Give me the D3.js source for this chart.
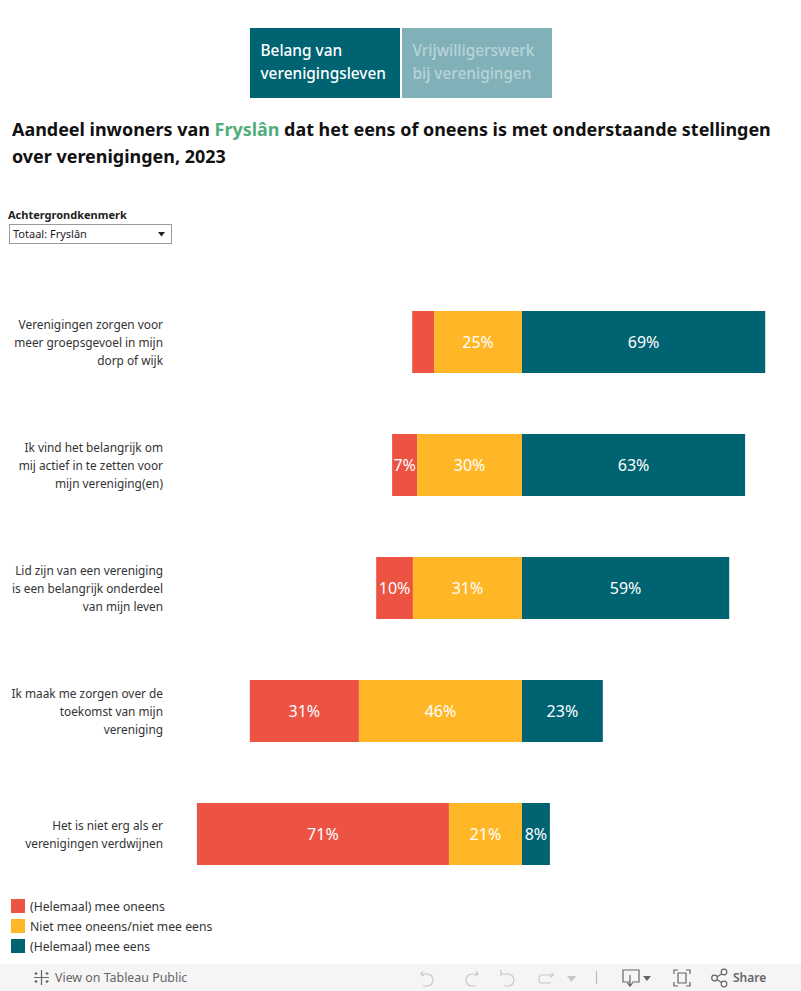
<!DOCTYPE html>
<html><head><meta charset="utf-8">
<script src="https://cdn.jsdelivr.net/npm/d3@7/dist/d3.min.js"></script>
<style>html,body{margin:0;padding:0;background:#fff}svg{display:block}text{font-family:"Noto Sans",sans-serif}</style>
</head><body><div id="chart"></div>
<script>
const statements = [
  ["Verenigingen zorgen voor","meer groepsgevoel in mijn","dorp of wijk"],
  ["Ik vind het belangrijk om","mij actief in te zetten voor","mijn vereniging(en)"],
  ["Lid zijn van een vereniging","is een belangrijk onderdeel","van mijn leven"],
  ["Ik maak me zorgen over de","toekomst van mijn","vereniging"],
  ["Het is niet erg als er","verenigingen verdwijnen"]
];
const oneens  = [6.2, 7.1, 10.4, 30.9, 71.4];
const neutraal = [24.9, 29.7, 30.9, 46.2, 20.7];
const eens    = [68.9, 63.2, 58.7, 22.9, 7.9];
const showOneensLabel = [false, true, true, true, true];
const legendLabels = ["(Helemaal) mee oneens","Niet mee oneens/niet mee eens","(Helemaal) mee eens"];
const colors = ["#ec5343","#ffb727","#006372"];

const W=801,H=991;
const svg=d3.select("#chart").append("svg").attr("width",W).attr("height",H);
const x=d3.scaleLinear().domain([-100,100]).range([522-353,522+353]);
const y=d3.scaleBand().domain(d3.range(statements.length)).range([280.5,895.5]).paddingInner(61/123).paddingOuter(61/246);

// tabs
const tabs=[{x:250,fill:"#006372",c:"#fff",t:["Belang van","verenigingsleven"]},{x:402,fill:"#80b1b8",c:"#b9d4d8",t:["Vrijwilligerswerk","bij verenigingen"]}];
tabs.forEach(t=>{
  svg.append("rect").attr("x",t.x).attr("y",28).attr("width",150).attr("height",70).attr("fill",t.fill);
  t.t.forEach((s,i)=>svg.append("text").attr("x",t.x+10.5).attr("y",55.5+i*23).attr("fill",t.c).attr("font-size",15.4).attr("font-weight",500).text(s));
});
// title
const ttl=svg.append("text").attr("x",12).attr("y",136).attr("font-size",17.95).attr("font-weight",700).attr("fill","#111");
ttl.append("tspan").text("Aandeel inwoners van ");
ttl.append("tspan").attr("fill","#4fae7c").text("Fryslân");
ttl.append("tspan").text(" dat het eens of oneens is met onderstaande stellingen");
svg.append("text").attr("x",12).attr("y",163).attr("font-size",17.95).attr("font-weight",700).attr("fill","#111").text("over verenigingen, 2023");
// filter
svg.append("text").attr("x",8).attr("y",219).attr("font-size",11).attr("font-weight",700).attr("fill","#222").text("Achtergrondkenmerk");
svg.append("rect").attr("x",9.5).attr("y",224.5).attr("width",162).attr("height",19).attr("fill","#fff").attr("stroke","#9a9a9a");
svg.append("text").attr("x",13).attr("y",238).attr("font-size",11).attr("fill","#222").text("Totaal: Fryslân");
svg.append("path").attr("d","M158 232h7l-3.5 4.5z").attr("fill","#222");

// rows
statements.forEach((lines,i)=>{
  const cy=y(i)+y.bandwidth()/2, n=lines.length;
  lines.forEach((s,j)=>svg.append("text").attr("x",163).attr("y",cy+(j-(n-1)/2)*18+5).attr("text-anchor","end").attr("font-size",11.85).attr("fill","#333").text(s));
  const v1=oneens[i],v2=neutraal[i],v3=eens[i];
  const segs=[[-(v1+v2),-v2,colors[0],v1,showOneensLabel[i]],[-v2,0,colors[1],v2,true],[0,v3,colors[2],v3,true]];
  segs.forEach(([a,b,c,v,show])=>{
    svg.append("rect").attr("x",x(a)).attr("y",y(i)).attr("width",x(b)-x(a)).attr("height",y.bandwidth()).attr("fill",c);
    if(show) svg.append("text").attr("x",(x(a)+x(b))/2).attr("y",cy+5.5).attr("text-anchor","middle").attr("font-size",16).attr("fill","#fff").text(Math.round(v)+"%");
  });
});
// legend
legendLabels.forEach((s,i)=>{
  svg.append("rect").attr("x",11).attr("y",899+i*20).attr("width",14).attr("height",14).attr("fill",colors[i]);
  svg.append("text").attr("x",30).attr("y",911+i*20).attr("font-size",12.2).attr("fill","#333").text(s);
});
// toolbar
const tb=svg.append("g");
tb.append("rect").attr("x",0).attr("y",964).attr("width",W).attr("height",27).attr("fill","#f5f5f5");
const icon=(d,col)=>tb.append("path").attr("d",d).attr("fill","none").attr("stroke",col||"#666").attr("stroke-width",1.2);
icon("M41.5 970v5M41.5 980v5M34 977.5h5M44 977.5h5M36 972v3M34.5 973.5h3M47 972v3M45.5 973.5h3M36 980v3M34.5 981.5h3M47 980v3M45.5 981.5h3M41.5 974v7M38 977.5h7");
tb.append("text").attr("x",55).attr("y",982).attr("font-size",12.4).attr("fill","#666").text("View on Tableau Public");
const dis="#c8c8c8";
icon("M423 971l-2 3 3 2M421 974h6a6 6 0 0 1 0 12h-4",dis);
icon("M476 971l2 3-3 2M478 974h-6a6 6 0 0 0 0 12h4",dis);
icon("M501 970v6M501 974h7a6 6 0 0 1 0 12h-4",dis);
icon("M552 973l1 2.5-3 1.5M553 975h-12a3 3 0 0 0-2 2v4a3 3 0 0 0 2 2h10",dis);
tb.append("path").attr("d","M567 976h9l-4.5 6z").attr("fill",dis);
icon("M596.5 971v13","#bbb");
icon("M630 982h-7v-12h16v12h-7M630 975v10M627.5 983l2.5 3 2.5-3");
tb.append("path").attr("d","M643 976h8l-4 5z").attr("fill","#666");
icon("M674 974v-4h4M686 970h4v4M690 982v4h-4M678 986h-4v-4M678 973h8v10h-8z");
icon("M716 977.5l8-5M716 979l8 5");
[[714.5,978],[724,972],[724,984]].forEach(([cx,cy])=>tb.append("circle").attr("cx",cx).attr("cy",cy).attr("r",2.8).attr("fill","#f5f5f5").attr("stroke","#666").attr("stroke-width",1.2));
tb.append("text").attr("x",733).attr("y",982).attr("font-size",12).attr("font-weight",600).attr("fill","#666").text("Share");
</script></body></html>
